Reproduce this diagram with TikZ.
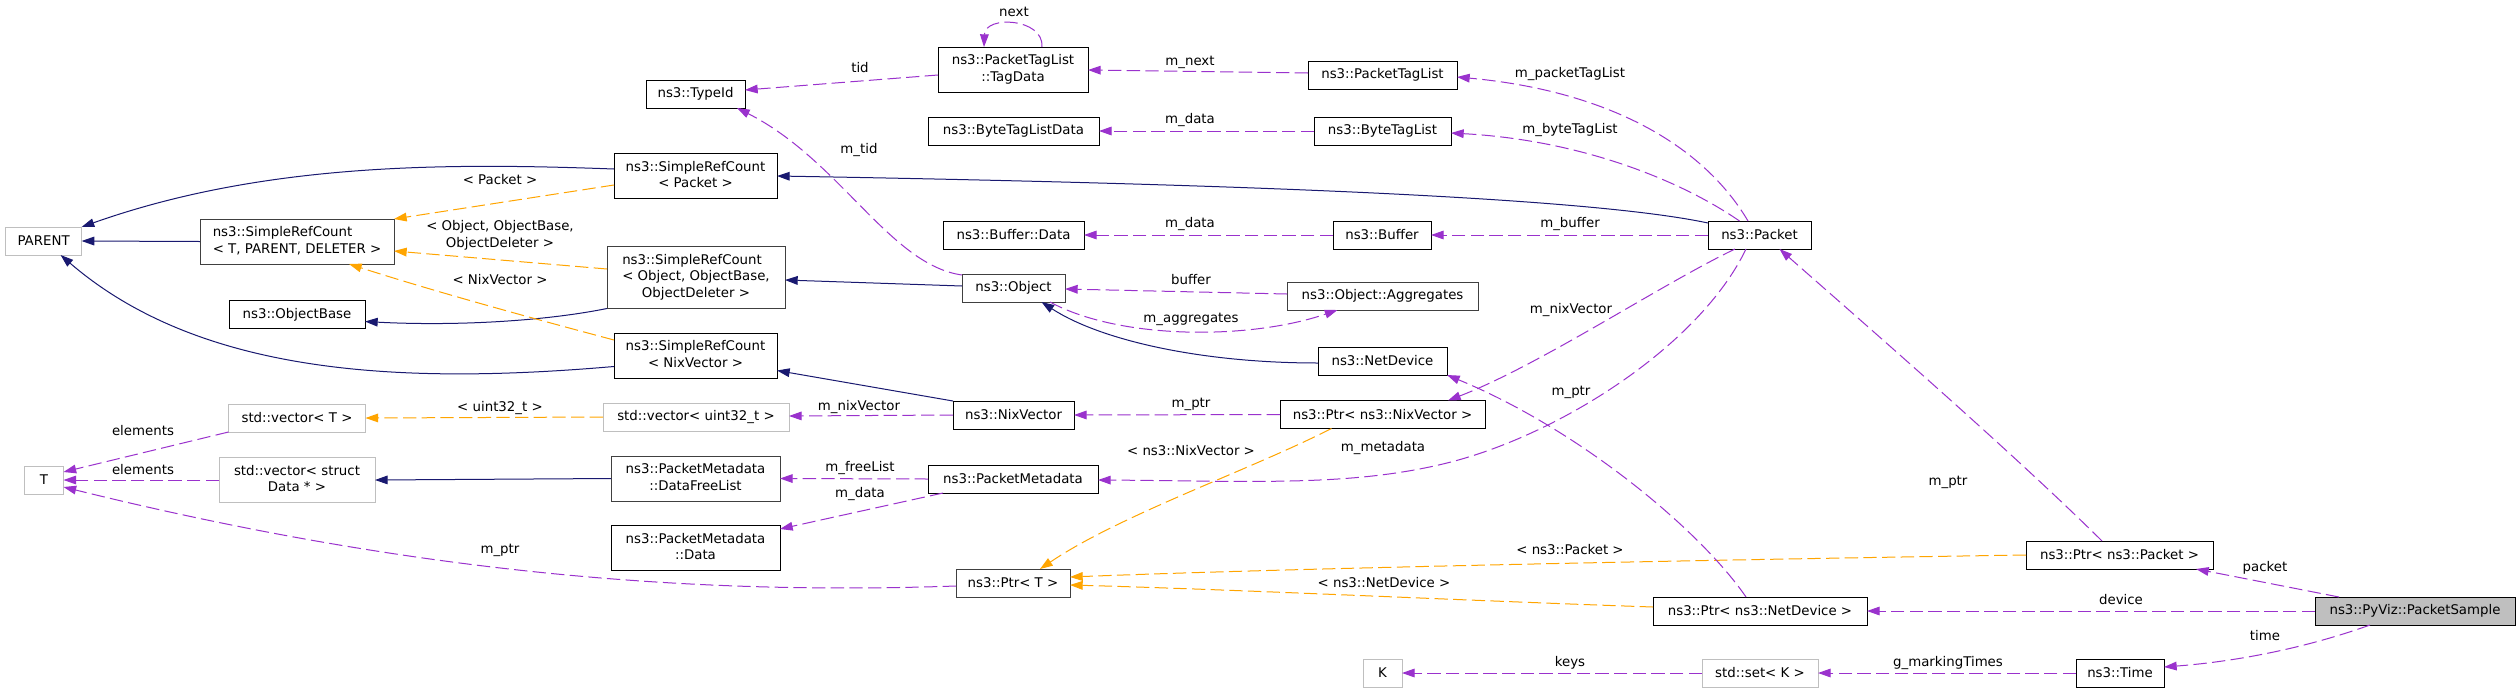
\documentclass[tikz,border=0pt]{standalone}
\usepackage{fontspec}
\setmainfont{DejaVu Sans}
\usetikzlibrary{arrows.meta,calc}
\definecolor{edgenavy}{HTML}{191970}
\definecolor{edgepurple}{HTML}{9A32CD}
\definecolor{edgeorange}{HTML}{FFA500}
\definecolor{nodegray}{HTML}{BFBFBF}
\definecolor{nodedark}{HTML}{404040}
\newcommand{\twoline}[2]{\begin{tabular}{@{}l@{}}#1\\\multicolumn{1}{@{}c@{}}{#2}\end{tabular}}
\begin{document}
\begin{tikzpicture}[x=0.75pt,y=-0.75pt,
  font=\fontsize{10pt}{12.5pt}\selectfont,
  every node/.style={inner sep=0pt, outer sep=0pt},
  box/.style 2 args={draw=black, fill=white, line width=0.75pt, minimum width={#1*0.75pt}, minimum height={#2*0.75pt}},
  dbox/.style 2 args={draw=nodedark, fill=white, line width=0.75pt, minimum width={#1*0.75pt}, minimum height={#2*0.75pt}},
  gbox/.style 2 args={draw=nodegray, fill=white, line width=0.75pt, minimum width={#1*0.75pt}, minimum height={#2*0.75pt}},
  sbox/.style 2 args={draw=black, fill=nodegray, line width=0.75pt, minimum width={#1*0.75pt}, minimum height={#2*0.75pt}},
  tip/.style={-{Triangle[length=9.5pt,width=6.5pt]}},
  inh/.style={draw=edgenavy, line width=0.75pt, tip},
  tmpl/.style={draw=edgeorange, line width=0.75pt, dash pattern=on 10pt off 4pt, tip},
  memb/.style={draw=edgepurple, line width=0.75pt, dash pattern=on 10pt off 4pt, tip},
  lbl/.style={text=black}
]
\fill[white] (0,0) rectangle (2520,693);
\useasboundingbox (0,0) rectangle (2520,693);

% ---------- nodes ----------
\node[gbox={76}{28}] (PARENT) at (43.6,241) {PARENT};
\node[dbox={194}{45}] (SRCtpd) at (297,241.5) {\twoline{ns3::SimpleRefCount}{< T, PARENT, DELETER >}};
\node[box={136}{28}] (ObjectBase) at (297,314.5) {ns3::ObjectBase};
\node[gbox={39}{28}] (T) at (44,480) {T};
\node[gbox={137}{28}] (vecT) at (297,418) {std::vector< T >};
\node[gbox={156}{45}] (vecStruct) at (297,480) {\twoline{std::vector< struct}{Data * >}};
\node[box={99}{28}] (TypeId) at (695.5,94) {ns3::TypeId};
\node[box={163}{45}] (SRCpacket) at (695.5,176) {\twoline{ns3::SimpleRefCount}{< Packet >}};
\node[dbox={178}{62}] (SRCobj) at (696,277.5) {\begin{tabular}{@{}l@{}}ns3::SimpleRefCount\\< Object, ObjectBase,\\\multicolumn{1}{@{}c@{}}{ObjectDeleter >}\end{tabular}};
\node[box={163}{45}] (SRCnix) at (695.5,355.5) {\twoline{ns3::SimpleRefCount}{< NixVector >}};
\node[gbox={186}{28}] (vecU32) at (696,417) {std::vector< uint32\_t >};
\node[dbox={169}{45}] (DataFreeList) at (695.5,478.5) {\twoline{ns3::PacketMetadata}{::DataFreeList}};
\node[box={169}{45}] (PMData) at (695.5,548) {\twoline{ns3::PacketMetadata}{::Data}};
\node[box={150}{45}] (TagData) at (1013,69.5) {\twoline{ns3::PacketTagList}{::TagData}};
\node[box={171}{28}] (ByteTagListData) at (1013.5,131) {ns3::ByteTagListData};
\node[box={141}{28}] (BufferData) at (1013.5,235) {ns3::Buffer::Data};
\node[dbox={103}{28}] (Object) at (1013.5,288) {ns3::Object};
\node[box={121}{28}] (NixVector) at (1013.5,415) {ns3::NixVector};
\node[box={170}{28}] (PacketMetadata) at (1013,479) {ns3::PacketMetadata};
\node[dbox={114}{28}] (PtrT) at (1013,583) {ns3::Ptr< T >};
\node[box={149}{28}] (PacketTagList) at (1382.5,75) {ns3::PacketTagList};
\node[box={137}{28}] (ByteTagList) at (1382.5,131) {ns3::ByteTagList};
\node[box={98}{28}] (Buffer) at (1382,235) {ns3::Buffer};
\node[dbox={191}{28}] (Aggregates) at (1382.5,296) {ns3::Object::Aggregates};
\node[box={129}{28}] (NetDevice) at (1382.5,361) {ns3::NetDevice};
\node[box={205}{28}] (PtrNix) at (1382.5,414.5) {ns3::Ptr< ns3::NixVector >};
\node[gbox={39}{28}] (K) at (1382.5,673) {K};
\node[box={103}{28}] (Packet) at (1759.5,235) {ns3::Packet};
\node[box={214}{28}] (PtrNetDevice) at (1760,611) {ns3::Ptr< ns3::NetDevice >};
\node[gbox={116}{28}] (setK) at (1760,673) {std::set< K >};
\node[box={187}{28}] (PtrPacket) at (2119.5,555) {ns3::Ptr< ns3::Packet >};
\node[box={88}{28}] (Time) at (2120,673) {ns3::Time};
\node[sbox={200}{28}] (PacketSample) at (2415,611) {ns3::PyViz::PacketSample};

% ---------- inheritance (navy) ----------
\draw[inh] ($(SRCpacket.west)+(0,-7)$) .. controls (450,163) and (265,162) .. (PARENT.north east);
\draw[inh] (SRCtpd.west) -- (PARENT.east);
\draw[inh] ($(SRCnix.west)+(0,11)$) .. controls (400,385) and (200,375) .. ($(PARENT.south)+(17,0)$);
\draw[inh] (SRCobj.south west) .. controls (540,322) and (450,326) .. ($(ObjectBase.east)+(0,7)$);
\draw[inh] ($(Object.west)+(0,-2)$) -- ($(SRCobj.east)+(0,2.5)$);
\draw[inh] (NixVector.north west) -- ($(SRCnix.east)+(0,15)$);
\draw[inh] ($(NetDevice.west)+(0,2)$) .. controls (1200,363) and (1100,340) .. ($(Object.south)+(28,0)$);
\draw[inh] ($(Packet.north west)+(0,2)$) .. controls (1600,200) and (1300,185) .. (SRCpacket.east);
\draw[inh] (DataFreeList.west) -- (vecStruct.east);

% ---------- template instances (orange) ----------
\draw[tmpl] ($(SRCpacket.west)+(0,9)$) -- (SRCtpd.north east);
\draw[tmpl] ($(SRCobj.west)+(0,-8.5)$) -- ($(SRCtpd.east)+(0,9.5)$);
\draw[tmpl] ($(SRCnix.west)+(0,-15.5)$) .. controls (520,315) and (430,290) .. ($(SRCtpd.south east)+(-45,0)$);
\draw[tmpl] (vecU32.west) -- (vecT.east);
\draw[tmpl] ($(PtrNix.south)+(-51,0)$) .. controls (1250,470) and (1120,515) .. ($(PtrT.north)+(27,0)$);
\draw[tmpl] (PtrPacket.west) .. controls (1700,560) and (1300,568) .. ($(PtrT.east)+(0,-6)$);
\draw[tmpl] ($(PtrNetDevice.west)+(0,-4)$) .. controls (1450,600) and (1250,590) .. ($(PtrT.east)+(0,2)$);

% ---------- members (purple) ----------
\draw[memb] (vecT.south west) -- ($(T.east)+(0,-8)$);
\draw[memb] (vecStruct.west) -- (T.east);
\draw[memb] ($(PtrT.west)+(0,3)$) .. controls (700,595) and (420,575) .. ($(T.south east)+(0,-7)$);
\draw[memb] ($(TagData.west)+(0,5.5)$) -- ($(TypeId.east)+(0,-4)$);
\draw[memb] ($(TagData.north)+(29,0)$) .. controls (1044,18) and (985,15) .. ($(TagData.north)+(-29,0)$);
\draw[memb] ($(PacketTagList.west)+(0,-2)$) -- ($(TagData.east)+(0,0.5)$);
\draw[memb] (ByteTagList.west) -- (ByteTagListData.east);
\draw[memb] (Buffer.west) -- (BufferData.east);
\draw[memb] ($(Aggregates.west)+(0,-2)$) -- ($(Object.east)+(0,1)$);
\draw[memb] ($(Object.south east)+(-15,0)$) .. controls (1120,340) and (1250,340) .. ($(Aggregates.south)+(-45,0)$);
\draw[memb] ($(Object.north west)+(0,1)$) .. controls (890,265) and (840,160) .. ($(TypeId.south east)+(-8,0)$);
\draw[memb] (NixVector.west) -- ($(vecU32.east)+(0,-1)$);
\draw[memb] (PtrNix.west) -- (NixVector.east);
\draw[memb] (PacketMetadata.west) -- (DataFreeList.east);
\draw[memb] ($(PacketMetadata.south west)+(15,0)$) -- ($(PMData.north east)+(0,3.5)$);
\draw[memb] ($(Packet.north)+(-11.5,0)$) .. controls (1700,140) and (1600,90) .. ($(PacketTagList.east)+(0,2)$);
\draw[memb] ($(Packet.north)+(-20,0)$) .. controls (1680,180) and (1580,140) .. ($(ByteTagList.east)+(0,2)$);
\draw[memb] (Packet.west) -- (Buffer.east);
\draw[memb] ($(Packet.south)+(-24.5,0)$) .. controls (1660,285) and (1540,365) .. ($(PtrNix.north east)+(-37,0)$);
\draw[memb] ($(Packet.south)+(-13.5,0)$) .. controls (1700,345) and (1560,435) .. (1447,463) .. controls (1350,487) and (1250,481) .. ($(PacketMetadata.east)+(0,1)$);
\draw[memb] ($(PtrNetDevice.north)+(-14,0)$) .. controls (1700,530) and (1580,430) .. (NetDevice.south east);
\draw[memb] ($(PtrPacket.north)+(-17.5,0)$) .. controls (2010,450) and (1860,320) .. ($(Packet.south)+(20,0)$);
\draw[memb] ($(PacketSample.north west)+(24,0)$) -- ($(PtrPacket.south east)+(-17,0)$);
\draw[memb] (PacketSample.west) -- (PtrNetDevice.east);
\draw[memb] ($(PacketSample.south)+(-45,0)$) .. controls (2300,650) and (2230,662) .. ($(Time.east)+(0,-6)$);
\draw[memb] (Time.west) -- (setK.east);
\draw[memb] (setK.west) -- (K.east);

% ---------- labels ----------
\node[lbl] (l1) at (500,180) {< Packet >};
\node[lbl,align=center] (l2) at (500,235) {< Object, ObjectBase,\\ObjectDeleter >};
\node[lbl] (l3) at (500,280) {< NixVector >};
\node[lbl] (l4) at (143,431) {elements};
\node[lbl] (l5) at (143,470) {elements};
\node[lbl] (l6) at (500,408) {< uint32\_t >};
\node[lbl] (l7) at (500,550) {m\_ptr};
\node[lbl] (l8) at (1014,12) {next};
\node[lbl] (l9) at (860,68) {tid};
\node[lbl] (l10) at (1190,62) {m\_next};
\node[lbl] (l11) at (1190,120) {m\_data};
\node[lbl] (l12) at (859,150) {m\_tid};
\node[lbl] (l13) at (1190,224) {m\_data};
\node[lbl] (l14) at (1191,280) {buffer};
\node[lbl] (l15) at (1191,319) {m\_aggregates};
\node[lbl] (l16) at (859,407) {m\_nixVector};
\node[lbl] (l17) at (1191,404) {m\_ptr};
\node[lbl] (l18) at (1191,451) {< ns3::NixVector >};
\node[lbl] (l19) at (860,468) {m\_freeList};
\node[lbl] (l20) at (860,494) {m\_data};
\node[lbl] (l21) at (1570,74) {m\_packetTagList};
\node[lbl] (l22) at (1570,130) {m\_byteTagList};
\node[lbl] (l23) at (1570,224) {m\_buffer};
\node[lbl] (l24) at (1571,310) {m\_nixVector};
\node[lbl] (l25) at (1571,392) {m\_ptr};
\node[lbl] (l26) at (1383,448) {m\_metadata};
\node[lbl] (l27) at (1570,550) {< ns3::Packet >};
\node[lbl] (l28) at (1384,583) {< ns3::NetDevice >};
\node[lbl] (l29) at (1570,663) {keys};
\node[lbl] (l30) at (1948,482) {m\_ptr};
\node[lbl] (l31) at (2265,568) {packet};
\node[lbl] (l32) at (2121,600) {device};
\node[lbl] (l33) at (2265,636) {time};
\node[lbl] (l34) at (1948,663) {g\_markingTimes};
\end{tikzpicture}
\end{document}
